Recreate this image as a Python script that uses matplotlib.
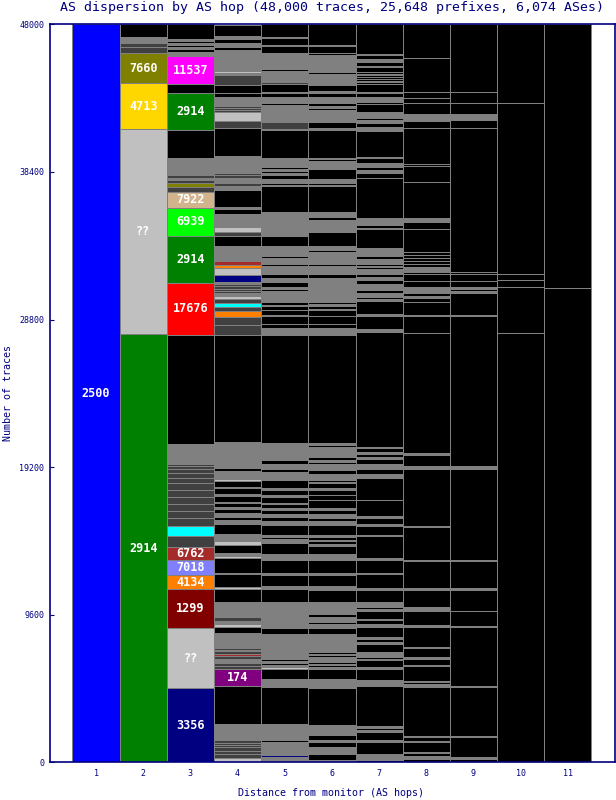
import numpy as np
import matplotlib
matplotlib.use('Agg')
import matplotlib.pyplot as plt

plt.rcParams['font.family'] = ['DejaVu Sans Mono', 'DejaVu Sans']

NAVY = '#000080'

# segments per hop, bottom to top: (traces, AS / group key)
# k = other (black), g = grey, d = dark grey, s = silver, c = cyan AS (unlabelled)
hop1 = [(48000, '2500')]
hop2 = [(27840, '2914'), (13330, '??'), (2990, '4713'), (1990, '7660'), (370, 'd'), (280, 'd'),
        (150, 'g'), (65, 'd'), (175, 'g'), (800, 'k')]
hop3 = [(4810, '3356'), (3930, '??'), (2500, '1299'), (945, '4134'), (975, '7018'), (845, '6762'),
        (715, 'd'), (650, 'c'), (500, 'd'), (475, 'd'), (435, 'd'), (475, 'd'), (455, 'd'), (435, 'd'),
        (325, 'd'), (325, 'd'), (300, 'd'), (175, 'd'), (150, 'd'), (1300, 'g'), (7070, 'k'),
        (3400, '17676'), (3070, '2914'), (1820, '6939'), (1040, '7922'), (325, 'd'), (260, '7660'),
        (195, 'd'), (130, 'g'), (160, 'd'), (1125, 'g'), (1800, 'k'), (2440, '2914'), (535, 'k'),
        (1840, '11537'), (260, 'g'), (195, 'k'), (130, 'g'), (130, 'k'), (130, 'g'), (130, 'k'),
        (130, 'g'), (960, 'k')]
hop4 = [(305, 's'), (260, 'd'), (200, 'd'), (200, 'd'), (130, 'd'), (130, 'd'), (200, 'd'), (1080, 'g'),
        (2450, 'k'), (1085, '174'), (195, 'd'), (195, 'd'), (85, '4134'), (220, 'g'), (150, 'd'),
        (130, '6762'), (195, 'd'), (65, '7018'), (175, 'd'), (960, 'g'), (370, 'k'), (240, 's'),
        (170, 'g'), (260, 'd'), (1000, 'g'), (850, 'k'), (110, 's'), (830, 'k'), (65, 'g'), (960, 'k'),
        (150, 's'), (175, 'g'), (520, 'k'), (280, 's'), (435, 'g'), (650, 'k'), (280, 'g'), (220, 'k'),
        (215, 'g'), (260, 'k'), (130, 'g'), (260, 'k'), (105, 'g'), (390, 'k'), (110, 'g'), (370, 'k'),
        (105, 'g'), (370, 'k'), (130, 's'), (520, 'g'), (195, 'k'), (325, 'g'), (85, 'k'), (1300, 'g'),
        (6945, 'k'), (640, 'd'), (550, 'd'), (345, '4134'), (305, 'd'), (260, 'c'), (215, 'd'), (240, 's'),
        (200, 'g'), (130, 'd'), (130, 'd'), (150, 'd'), (130, 'd'), (150, 'g'), (475, '3356'), (420, 's'),
        (230, '4134'), (220, '6762'), (105, '7018'), (110, 'g'), (65, 'c'), (700, 'g'), (700, 'k'),
        (260, 'd'), (280, 's'), (65, 'd'), (820, 'g'), (330, 'k'), (85, 'g'), (1100, 'k'), (300, 'g'),
        (195, 'd'), (330, 'g'), (150, 'd'), (155, 'd'), (1100, 'g'), (1800, 'k'), (500, 'd'), (540, 's'),
        (130, 'd'), (130, 'd'), (130, 'd'), (110, 'd'), (500, 'g'), (260, 'k'), (530, 'k'), (640, 'd'),
        (105, 'g'), (155, 's'), (1400, 'g'), (170, 'k'), (280, 'g'), (260, 'k'), (195, 'g'), (715, 'k')]
hop5 = [(345, 'g'), (155, '3356'), (410, 'g'), (105, 'k'), (325, 'g'), (110, 'k'), (1040, 'g'),
        (2405, 'k'), (65, 's'), (455, 'g'), (670, 'k'), (90, 's'), (150, 'g'), (110, 'k'), (170, 'g'),
        (90, 'k'), (85, 'g'), (85, 'k'), (175, 'g'), (85, 'k'), (1215, 'g'), (370, 'k'), (365, 'g'),
        (65, 'd'), (1300, 'g'), (805, 'k'), (215, 'g'), (715, 'k'), (110, 'g'), (865, 'k'), (390, 'g'),
        (695, 'k'), (260, 'g'), (170, 'k'), (110, 'g'), (650, 'k'), (280, 'g'), (220, 'k'), (215, 'g'),
        (260, 'k'), (130, 'g'), (240, 'k'), (105, 'g'), (390, 'k'), (110, 'g'), (325, 'k'), (110, 'g'),
        (540, 'k'), (520, 'g'), (175, 'k'), (345, 'g'), (260, 'k'), (370, 'g'), (105, 'k'), (650, 'g'),
        (7020, 'k'), (455, 'g'), (240, 'k'), (520, 'k'), (65, 'g'), (325, 'k'), (280, 'k'), (65, 'g'),
        (170, 'k'), (285, 'g'), (45, '4134'), (435, 'g'), (130, 'k'), (85, 'g'), (350, 'k'), (260, 'g'),
        (280, 'k'), (65, '174'), (455, 'g'), (110, 'k'), (390, 'g'), (150, 'k'), (650, 'g'), (650, 'k'),
        (1515, 'g'), (1690, 'k'), (110, 'g'), (85, 'k'), (305, 'g'), (240, 'k'), (105, 'g'), (130, 'k'),
        (175, 'g'), (85, 'k'), (630, 'g'), (1775, 'k'), (90, 'g'), (430, 'd'), (845, 'g'), (90, 'k'),
        (215, 'g'), (85, 'k'), (435, 'g'), (260, 'k'), (65, 'g'), (500, 'k'), (110, 'd'), (500, 'g'),
        (65, 'k'), (195, 'g'), (105, 'k'), (1020, 'g'), (455, 'k'), (65, 'g'), (475, 'k'), (45, 'g'),
        (850, 'k')]
hop6 = [(130, 'g'), (435, 'k'), (430, 'g'), (325, 'k'), (155, 'g'), (280, 'k'), (280, 'g'), (90, 'k'),
        (280, 'g'), (2425, 'k'), (565, 'g'), (670, 'k'), (130, 'g'), (110, 'k'), (110, 'g'), (105, 'k'),
        (110, 'g'), (110, 'k'), (105, 'g'), (110, 'k'), (110, 'g'), (105, 'k'), (435, 'g'), (110, 'k'),
        (605, 'g'), (435, 'k'), (260, 'g'), (105, 'k'), (110, 'g'), (110, 'k'), (105, 'g'), (175, 'k'),
        (800, 'g'), (805, 'k'), (215, 'g'), (715, 'k'), (150, 'g'), (825, 'k'), (390, 'g'), (520, 'k'),
        (175, 'g'), (170, 'k'), (90, 'g'), (170, 'k'), (110, 'g'), (650, 'k'), (150, 'g'), (45, 'k'),
        (85, 'g'), (220, 'k'), (260, 'g'), (260, 'k'), (130, 'g'), (475, 'k'), (345, 'k'), (350, 'k'),
        (130, 'g'), (300, 'k'), (45, 'g'), (130, 'k'), (435, 'g'), (260, 'k'), (345, 'g'), (150, 'k'),
        (110, 'g'), (215, 'k'), (260, 'g'), (90, 'k'), (85, 'g'), (110, 'k'), (105, 'g'), (110, 'k'),
        (150, 'g'), (7020, 'k'), (455, 'g'), (285, 'k'), (540, 'k'), (370, 'k'), (45, 'g'), (240, 'k'),
        (110, 'g'), (105, 'k'), (1235, 'g'), (90, 'k'), (260, 'g'), (260, 'k'), (540, 'g'), (110, 'k'),
        (755, 'g'), (155, 'k'), (280, 'g'), (865, 'k'), (325, 'g'), (110, 'k'), (370, 'g'), (215, 'k'),
        (280, 'g'), (1690, 'k'), (110, 'g'), (85, 'k'), (285, 'g'), (650, 'k'), (365, 'g'), (65, 'k'),
        (110, 'g'), (85, 'k'), (110, 'g'), (1775, 'k'), (65, 'g'), (90, 's'), (365, 'k'), (805, 'g'),
        (130, 'k'), (150, 'g'), (150, 'k'), (435, 'g'), (260, 'k'), (85, 'g'), (435, 'k'), (85, 'g'),
        (110, 'k'), (500, 'g'), (105, 'k'), (155, 'g'), (65, 'k'), (885, 'g'), (130, 'k'), (45, 'g'),
        (455, 'k'), (65, 'g'), (1325, 'k')]
hop7 = [(175, 'k'), (390, 'g'), (755, 'k'), (110, 'g'), (540, 'k'), (110, 'g'), (175, 'k'), (85, 'g'),
        (2600, 'k'), (435, 'g'), (690, 'k'), (130, 'g'), (435, 'k'), (110, 'g'), (105, 'k'), (110, 'g'),
        (110, 'k'), (105, 'g'), (545, 'k'), (105, 'g'), (220, 'k'), (105, 'g'), (650, 'k'), (175, 'g'),
        (260, 'k'), (110, 'g'), (495, 'k'), (155, 'g'), (105, 'k'), (110, 'g'), (110, 'k'), (105, 'g'),
        (805, 'k'), (130, 'g'), (865, 'k'), (85, 'g'), (870, 'k'), (130, 'g'), (1385, 'k'), (65, 'g'),
        (630, 'k'), (85, 'g'), (435, 'k'), (85, 'g'), (1040, 'k'), (1475, 'k'), (215, 'g'), (370, 'k'),
        (280, 'g'), (370, 'k'), (105, 'g'), (220, 'k'), (105, 'g'), (260, 'k'), (65, 'g'), (7480, 'k'),
        (220, 'g'), (865, 'k'), (110, 'g'), (865, 'k'), (110, 'g'), (105, 'k'), (260, 'g'), (220, 'k'),
        (170, 'g'), (110, 'k'), (110, 'g'), (260, 'k'), (170, 'g'), (220, 'k'), (325, 'g'), (105, 'k'),
        (110, 'g'), (110, 'k'), (325, 'g'), (215, 'k'), (130, 'g'), (65, 'k'), (130, 'g'), (65, 'k'),
        (130, 'g'), (1195, 'k'), (105, 'g'), (175, 'k'), (305, 'g'), (65, 'k'), (105, 'g'), (2600, 'k'),
        (325, 'k'), (155, 'g'), (215, 'k'), (280, 'g'), (285, 'k'), (85, 'g'), (1690, 'k'), (260, 'g'),
        (280, 'k'), (195, 'g'), (90, 'k'), (260, 'g'), (105, 'k'), (65, 'g'), (480, 'k'), (40, 'g'),
        (130, 'k'), (305, 'g'), (260, 'k'), (65, 'g'), (500, 'k'), (115, 'k'), (115, 'k'), (115, 'k'),
        (115, 'k'), (115, 'k'), (115, 'k'), (115, 'k'), (305, 'k'), (65, 'g'), (280, 'k'), (220, 'g'),
        (260, 'k'), (65, 'g'), (1900, 'k')]
hop8 = [(220, 'k'), (215, 'g'), (150, 'k'), (65, 'g'), (695, 'k'), (65, 'g'), (260, 'k'), (65, 'g'),
        (3185, 'k'), (175, 'g'), (105, 'k'), (110, 'g'), (975, 'k'), (65, 'g'), (390, 'k'), (130, 'g'),
        (565, 'k'), (85, 'g'), (1300, 'k'), (110, 'g'), (885, 'k'), (90, 'g'), (85, 'k'), (85, 'g'),
        (1150, 'k'), (110, 'g'), (1775, 'k'), (65, 'g'), (2145, 'k'), (65, 'g'), (3690, 'k'), (215, 'g'),
        (715, 'k'), (85, 'g'), (7830, 'k'), (1080, 'k'), (90, 'g'), (820, 'k'), (305, 'k'), (130, 'g'),
        (150, 'k'), (390, 'g'), (435, 'k'), (435, 'k'), (105, 'k'), (370, 'g'), (185, 'k'), (185, 'k'),
        (185, 'k'), (185, 'k'), (190, 'k'), (1520, 'k'), (430, 'k'), (110, 'g'), (65, 'k'), (110, 'g'),
        (2340, 'k'), (1040, 'k'), (170, 'k'), (2300, 'k'), (475, 'k'), (130, 'g'), (85, 'k'), (220, 'g'),
        (715, 'k'), (325, 'k'), (390, 'k'), (2210, 'k'), (2200, 'k')]
hop9 = [(220, 'k'), (150, 'g'), (1300, 'k'), (65, 'g'), (3185, 'k'), (65, 'g'), (3840, 'k'), (65, 'g'),
        (930, 'k'), (45, 'g'), (1365, 'k'), (110, 'g'), (1775, 'k'), (45, 'g'), (5915, 'k'), (215, 'g'),
        (9710, 'k'), (90, 'g'), (1405, 'k'), (130, 'g'), (155, 'k'), (105, 'g'), (435, 'k'), (435, 'k'),
        (150, 'k'), (9345, 'k'), (540, 'k'), (150, 'g'), (110, 'k'), (110, 'g'), (715, 'k'), (715, 'k'),
        (4410, 'k')]
hop10 = [(27950, 'k'), (2965, 'k'), (435, 'k'), (435, 'k'), (11120, 'k'), (5095, 'k')]
hop11 = [(30875, 'k'), (17125, 'k')]

hops = [hop1, hop2, hop3, hop4, hop5, hop6, hop7, hop8, hop9, hop10, hop11]

palette = {
    'k': '#000000', 'g': '#808080', 'd': '#404040', 's': '#c0c0c0', 'c': '#00ffff',
    '??': '#c0c0c0', '2500': '#0000ff', '2914': '#008000', '4713': '#ffd700', '7660': '#808000',
    '11537': '#ff00ff', '7922': '#d2b48c', '6939': '#00ff00', '17676': '#ff0000',
    '6762': '#a52a2a', '7018': '#8080ff', '4134': '#ff8000', '1299': '#800000',
    '3356': '#000080', '174': '#800080',
}
unlabelled = {'k', 'g', 'd', 's', 'c'}

fig = plt.figure(figsize=(6.16, 8), dpi=100)
ax = fig.add_axes([50 / 616, 37.7 / 800, 565 / 616, 738 / 800])

for i, segs in enumerate(hops):
    hop = i + 1
    sizes = np.array([s for s, _ in segs], dtype=float)
    keys = [k for _, k in segs]
    bottoms = np.concatenate([[0], np.cumsum(sizes)[:-1]])
    ax.bar(np.full(len(sizes), hop), sizes, bottom=bottoms, width=1.0,
           color=[palette[k] for k in keys], edgecolor='#808080', linewidth=0.5,
           antialiased=False)
    for size, key, b in zip(sizes, keys, bottoms):
        if key not in unlabelled and size >= 800:
            ax.text(hop, b + size / 2, key, color='white', fontsize=8.5,
                    fontweight='bold', ha='center', va='center')

ax.set_xlim(0.025, 12.0)
ax.set_ylim(0, 48000)
ax.set_xticks(range(1, 12))
ax.set_yticks([0, 9600, 19200, 28800, 38400, 48000])
ax.tick_params(axis='x', length=0, labelsize=6, colors=NAVY, pad=5)
ax.tick_params(axis='y', direction='in', length=3, labelsize=6, colors=NAVY, pad=4)
for sp in ax.spines.values():
    sp.set_color(NAVY)
    sp.set_linewidth(1.2)

fig.text(332 / 616, 1 - 8 / 800, 'AS dispersion by AS hop (48,000 traces, 25,648 prefixes, 6,074 ASes)',
         ha='center', va='center', fontsize=9.5, color=NAVY)
fig.text(331 / 616, 1 - 793 / 800, 'Distance from monitor (AS hops)',
         ha='center', va='center', fontsize=7.2, color=NAVY)
fig.text(8 / 616, 1 - 393 / 800, 'Number of traces', rotation=90,
         ha='center', va='center', fontsize=7.2, color=NAVY)

fig.savefig('out.png', dpi=100)
